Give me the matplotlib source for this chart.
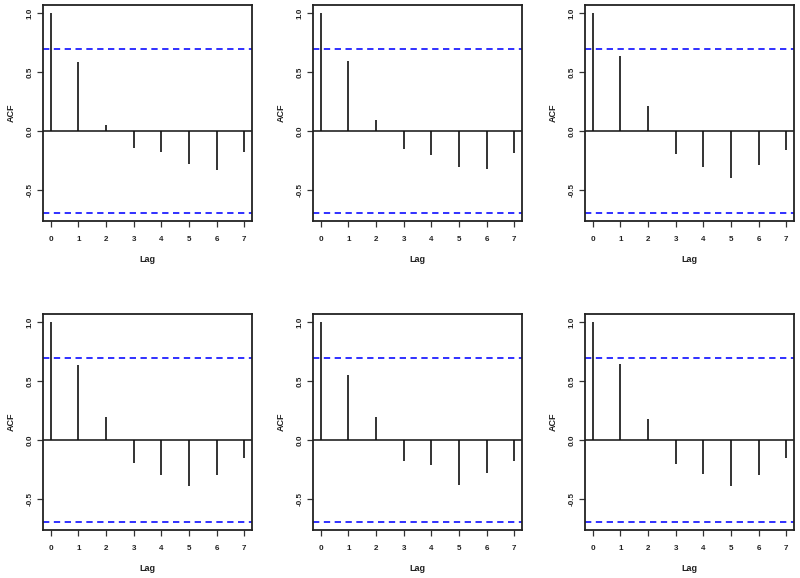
import numpy as np
import matplotlib
matplotlib.use("Agg")
import matplotlib.pyplot as plt

lags = [0, 1, 2, 3, 4, 5, 6, 7]
acf_p1 = [1.0, 0.587, 0.05, -0.14, -0.18, -0.275, -0.33, -0.18]
acf_p2 = [1.0, 0.59, 0.093, -0.15, -0.205, -0.304, -0.324, -0.186]
acf_p3 = [1.0, 0.64, 0.21, -0.19, -0.30, -0.394, -0.285, -0.158]
acf_p4 = [1.0, 0.64, 0.197, -0.197, -0.296, -0.386, -0.296, -0.149]
acf_p5 = [1.0, 0.55, 0.194, -0.175, -0.214, -0.377, -0.276, -0.177]
acf_p6 = [1.0, 0.648, 0.177, -0.203, -0.284, -0.386, -0.296, -0.152]
panels = [acf_p1, acf_p2, acf_p3, acf_p4, acf_p5, acf_p6]
n_obs = 8
clim = 1.96 / np.sqrt(n_obs)
yticks = [-0.5, 0.0, 0.5, 1.0]
ytick_labels = ["-0.5", "0.0", "0.5", "1.0"]

plt.rcParams['font.family'] = ['Liberation Sans', 'DejaVu Sans']

W, H = 800, 578
fig = plt.figure(figsize=(W / 100, H / 100), dpi=100)

lefts = [43, 313, 585]
tops = [5, 314]
w_px, h_px = 209, 216

for i, vals in enumerate(panels):
    r, c = divmod(i, 3)
    l = lefts[c]
    t = tops[r]
    ax = fig.add_axes([l / W, 1 - (t + h_px) / H, w_px / W, h_px / H])
    ax.vlines(lags, 0, vals, color='#111111', linewidth=1.2)
    ax.axhline(0, color='#111111', linewidth=1.1)
    ax.axhline(clim, color='#2020ff', linestyle=(0, (3.5, 2.5)), linewidth=1.3)
    ax.axhline(-clim, color='#2020ff', linestyle=(0, (3.5, 2.5)), linewidth=1.3)
    lo = min(-clim, min(vals))
    hi = max(clim, max(vals))
    pad = 0.04 * (hi - lo)
    ax.set_ylim(lo - pad, hi + pad)
    ax.set_xlim(-0.04 * 7, 7 + 0.04 * 7)
    ax.set_xticks(lags)
    ax.set_xticklabels([str(v) for v in lags], fontweight='bold')
    ax.set_yticks(yticks)
    ax.set_yticklabels(ytick_labels, rotation=90, va='center', fontweight='bold')
    ax.tick_params(axis='both', labelsize=5.8, length=4.5, width=0.9, color='#333333',
                   labelcolor='#222222')
    ax.tick_params(axis='x', pad=6)
    ax.tick_params(axis='y', pad=2)
    for s in ax.spines.values():
        s.set_linewidth(1.3)
        s.set_color('#222222')
    ax.set_xlabel('Lag', fontsize=6.5, labelpad=8.6, fontweight='bold', color='#222222')
    ax.set_ylabel('ACF', fontsize=6.5, labelpad=8.4, fontweight='bold', color='#222222')

fig.savefig('out.png', dpi=100)
